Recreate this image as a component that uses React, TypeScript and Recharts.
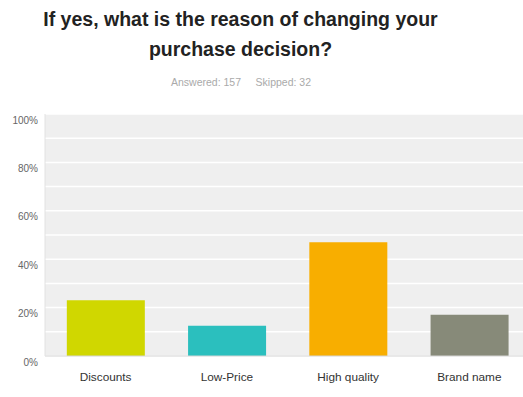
import { BarChart, Bar, XAxis, YAxis, CartesianGrid, Cell } from "recharts";

const categories = ["Discounts", "Low-Price", "High quality", "Brand name"];
const shares = [23, 12.5, 47, 17];
const barColors = ["#d0d700", "#2bbfbe", "#f8ae00", "#878a79"];
const yTicks = [0, 10, 20, 30, 40, 50, 60, 70, 80, 90, 100];

const data = categories.map((name, i) => ({ name, value: shares[i] }));

const YTick = ({ x, y, payload }: any) => {
  if (payload.value % 20 !== 0) return null;
  return (
    <text x={x + 1} y={y + 7} textAnchor="end" dominantBaseline="middle" fontSize={10} fill="#666">
      {`${payload.value}%`}
    </text>
  );
};

export default function App() {
  return (
    <div
      style={{
        position: "absolute",
        left: 0,
        top: 0,
        width: 523,
        height: 397,
        overflow: "hidden",
        background: "#fff",
        fontFamily: "'Liberation Sans', Arial, sans-serif",
      }}
    >
      <div
        style={{
          position: "absolute",
          left: 0,
          top: 4,
          width: 481,
          textAlign: "center",
          fontSize: 19.5,
          fontWeight: "bold",
          lineHeight: "30px",
          color: "#222",
        }}
      >
        If yes, what is the reason of changing your
        <br />
        purchase decision?
      </div>
      <div
        style={{
          position: "absolute",
          left: 0,
          top: 76,
          width: 482,
          textAlign: "center",
          fontSize: 10.5,
          color: "#aaa",
          whiteSpace: "pre",
        }}
      >
        {"Answered: 157     Skipped: 32"}
      </div>
      <BarChart
        width={530}
        height={397}
        data={data}
        barCategoryGap="18%"
        margin={{ top: 114, right: 0, bottom: 11, left: 0 }}
      >
        <CartesianGrid vertical={false} stroke="#ffffff" strokeWidth={1.5} fill="#efefef" />
        <XAxis
          dataKey="name"
          height={30}
          tickLine={false}
          tickMargin={11}
          axisLine={{ stroke: "#d4d4d4" }}
          tick={{ fontSize: 11.8, fill: "#333" }}
        />
        <YAxis
          width={45}
          domain={[0, 100]}
          ticks={yTicks}
          interval={0}
          tickLine={false}
          axisLine={{ stroke: "#e2e2e2" }}
          tick={<YTick />}
        />
        <Bar dataKey="value" isAnimationActive={false}>
          {data.map((d, i) => (
            <Cell key={d.name} fill={barColors[i]} />
          ))}
        </Bar>
      </BarChart>
    </div>
  );
}
